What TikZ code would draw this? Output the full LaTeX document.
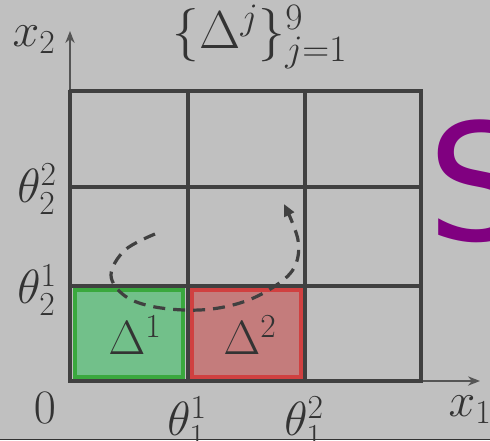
\RequirePackage{fix-cm}
\documentclass[tikz,border=0pt]{standalone}
\usetikzlibrary{arrows.meta}
\usepackage{fontspec}
\newfontfamily\bigsans{DejaVu Sans}
\definecolor{bg}{RGB}{192,192,192}
\definecolor{gridc}{RGB}{64,64,64}
\definecolor{axisc}{RGB}{85,85,85}
\definecolor{gfill}{RGB}{114,192,138}
\definecolor{gline}{RGB}{58,168,62}
\definecolor{rfill}{RGB}{196,124,124}
\definecolor{rline}{RGB}{208,64,64}
\definecolor{purp}{RGB}{128,0,128}
\begin{document}
\begin{tikzpicture}[x=0.75pt,y=-0.75pt,
  lbl/.style={font=\fontsize{36}{43}\selectfont, inner sep=0pt, text=black!80},
  gridline/.style={draw=gridc, line width=3pt},
  axisline/.style={draw=axisc, line width=1.1pt, -{Stealth[length=9pt,width=7pt]}},
  cellg/.style={fill=gfill, draw=gline, line width=3pt},
  cellr/.style={fill=rfill, draw=rline, line width=3pt},
  path/.style={draw=gridc, line width=2.4pt, dash pattern=on 9pt off 6pt, -{Triangle[length=9pt,width=8pt]}}]
\useasboundingbox (0,0) rectangle (490,440);
\clip (0,0) rectangle (490,440);
\fill[bg] (0,0) rectangle (490,440);
% coloured cells
\path[cellg] (74.5,290) rectangle (183,376.5);
\path[cellr] (191.5,290) rectangle (300.5,376.5);
% axes
\coordinate (o) at (70,381);
\coordinate (x1end) at (480,381);
\coordinate (x2end) at (70,31);
\draw[axisline] (o) -- (x1end);
\draw[axisline] (o) -- (x2end);
% grid
\foreach \x in {70,187.5,305,421}{\draw[gridline] (\x,89.5) -- (\x,382.5);}
\foreach \y in {91,187,286,381}{\draw[gridline] (68.5,\y) -- (422.5,\y);}
% dashed path
\coordinate (ps) at (155,234);
\coordinate (pe) at (284,204);
\draw[path] plot[smooth, tension=0.6] coordinates {(ps) (125,250) (111,275) (125,296) (155,307) (200,310) (240,303) (272,288) (294,268) (298,240) (pe)};
% labels
\node[lbl] (lx2) at (34,40) {$x_2$};
\node[lbl, font=\fontsize{40}{48}\selectfont] (ttl) at (260,37) {$\{\Delta^j\}_{j=1}^9$};
\node[lbl] (t22) at (37,189) {$\theta_2^2$};
\node[lbl] (t21) at (37,290) {$\theta_2^1$};
\node[lbl] (zero) at (45,408) {$0$};
\node[lbl] (t11) at (187,422) {$\theta_1^1$};
\node[lbl] (t12) at (304,422) {$\theta_1^2$};
\node[lbl] (lx1) at (470,410) {$x_1$};
\node[lbl] (d1) at (135,335) {$\Delta^1$};
\node[lbl] (d2) at (250,335) {$\Delta^2$};
\node[font=\bigsans\fontsize{122}{126}\selectfont, text=purp, inner sep=0pt, anchor=base west] (bigS) at (427,240) {S};
% bottom edge
\fill[black!80] (0,438.5) rectangle (490,440);
\end{tikzpicture}
\end{document}
